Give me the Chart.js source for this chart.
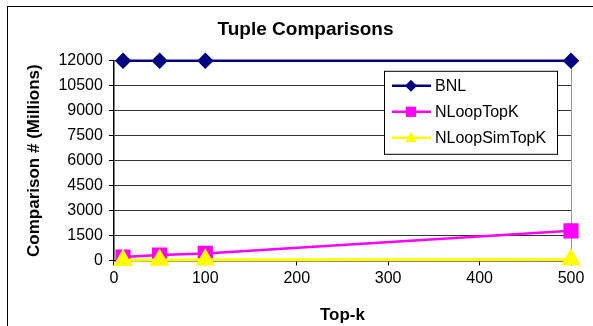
<!DOCTYPE html>
<html>
<head>
<meta charset="utf-8">
<script src="https://cdn.jsdelivr.net/npm/chart.js@4.4.0/dist/chart.umd.min.js"></script>
<style>
  html, body { margin: 0; padding: 0; background: #fff; }
  #wrap { position: relative; width: 593px; height: 326px; overflow: hidden; }
  #frame { position: absolute; left: 7px; top: 6px; right: -5px; bottom: -5px;
           border-left: 1px solid #000; border-top: 1px solid #000; }
  canvas { position: absolute; left: 0; top: 0; }
</style>
</head>
<body>
<div id="wrap">
  <div id="frame"></div>
  <canvas id="chart" width="593" height="326"></canvas>
</div>
<script>
// values
const topK = [10, 50, 100, 500];
const bnl = [12000, 12000, 12000, 12000];
const nloopTopK = [200, 320, 420, 1780];
const nloopSimTopK = [15, 25, 35, 60];
const seriesNames = ['BNL', 'NLoopTopK', 'NLoopSimTopK'];
const yTicks = [0, 1500, 3000, 4500, 6000, 7500, 9000, 10500, 12000];
const xTicks = [0, 100, 200, 300, 400, 500];

const FONT = 'Liberation Sans, Arial, sans-serif';

function toXY(xs, ys) {
  return xs.map((x, i) => ({ x: x, y: ys[i] }));
}

// small marker for the legend box
function drawMarker(ctx, style, x, y, r, color) {
  ctx.save();
  ctx.fillStyle = color;
  ctx.beginPath();
  if (style === 'rectRot') {
    ctx.moveTo(x, y - r); ctx.lineTo(x + r, y); ctx.lineTo(x, y + r); ctx.lineTo(x - r, y);
  } else if (style === 'rect') {
    ctx.rect(x - r * 0.85, y - r * 0.85, r * 1.7, r * 1.7);
  } else {
    ctx.moveTo(x, y - r); ctx.lineTo(x + r * 0.95, y + r * 0.7); ctx.lineTo(x - r * 0.95, y + r * 0.7);
  }
  ctx.closePath();
  ctx.fill();
  ctx.restore();
}

// title sits over the plot area, not over the whole canvas
const titleShift = {
  id: 'titleShift',
  afterLayout(chart) {
    if (chart.titleBlock) chart.titleBlock.left += 16;
  }
};

const boxLegend = {
  id: 'boxLegend',
  afterDatasetsDraw(chart) {
    const ctx = chart.ctx;
    const area = chart.chartArea;
    const left = area.right - 187, top = area.top + 10, w = 173, h = 83;
    ctx.save();
    ctx.fillStyle = '#fff';
    ctx.fillRect(left, top, w, h);
    ctx.strokeStyle = '#000';
    ctx.lineWidth = 1;
    ctx.strokeRect(left + 0.5, top + 0.5, w, h);
    ctx.font = '16px ' + FONT;
    ctx.textBaseline = 'middle';
    chart.data.datasets.forEach((ds, i) => {
      const y = top + 15 + i * 26;
      ctx.strokeStyle = ds.borderColor;
      ctx.lineWidth = 2.5;
      ctx.beginPath();
      ctx.moveTo(left + 8, y);
      ctx.lineTo(left + 47, y);
      ctx.stroke();
      drawMarker(ctx, ds.pointStyle, left + 27, y, 6, ds.backgroundColor);
      ctx.fillStyle = '#000';
      ctx.fillText(ds.label, left + 51, y + 1);
    });
    ctx.restore();
  }
};

new Chart(document.getElementById('chart'), {
  type: 'line',
  data: {
    datasets: [
      {
        label: seriesNames[0],
        data: toXY(topK, bnl),
        borderColor: '#000080',
        backgroundColor: '#000080',
        borderWidth: 2.5,
        pointStyle: 'rectRot',
        pointRadius: 6.5,
        clip: false,
        order: 3
      },
      {
        label: seriesNames[1],
        data: toXY(topK, nloopTopK),
        borderColor: '#ff00ff',
        backgroundColor: '#ff00ff',
        borderWidth: 2.5,
        pointStyle: 'rect',
        pointRadius: 9,
        clip: false,
        order: 2
      },
      {
        label: seriesNames[2],
        data: toXY(topK, nloopSimTopK),
        borderColor: '#ffff00',
        backgroundColor: '#ffff00',
        borderWidth: 3,
        pointStyle: 'triangle',
        pointRadius: 8.5,
        clip: false,
        order: 1
      }
    ]
  },
  options: {
    responsive: false,
    animation: false,
    layout: { padding: { left: 24, right: 22, top: 18, bottom: 0 } },
    elements: { point: { borderWidth: 0 }, line: { tension: 0 } },
    plugins: {
      legend: { display: false },
      tooltip: { enabled: false },
      title: {
        display: true,
        text: 'Tuple Comparisons',
        color: '#000',
        font: { family: FONT, size: 19, weight: 'bold' },
        padding: { top: 0, bottom: 20 }
      }
    },
    scales: {
      x: {
        type: 'linear',
        min: 0,
        max: 500,
        afterBuildTicks: (axis) => { axis.ticks = xTicks.map(v => ({ value: v })); },
        ticks: { color: '#000', font: { family: FONT, size: 16 }, padding: 4, maxRotation: 0,
                 callback: (v) => String(v) },
        grid: {
          color: (c) => c.tick && c.tick.value === 500 ? '#999' : 'rgba(0,0,0,0)',
          tickColor: '#000',
          tickLength: 5
        },
        border: { color: '#000', width: 1.5 },
        title: {
          display: true,
          text: 'Top-k',
          color: '#000',
          font: { family: FONT, size: 17, weight: 'bold' },
          padding: { top: 13, bottom: 0 }
        }
      },
      y: {
        min: 0,
        max: 12000,
        afterBuildTicks: (axis) => { axis.ticks = yTicks.map(v => ({ value: v })); },
        ticks: { color: '#000', font: { family: FONT, size: 16 }, padding: 6,
                 callback: (v) => String(v) },
        grid: { color: '#333', tickColor: '#000', tickLength: 5 },
        border: { color: '#000', width: 1.5 },
        title: {
          display: true,
          text: 'Comparison # (Millions)',
          color: '#000',
          font: { family: FONT, size: 17, weight: 'bold' },
          padding: { top: 0, bottom: 8 }
        }
      }
    }
  },
  plugins: [titleShift, boxLegend]
});
</script>
</body>
</html>
